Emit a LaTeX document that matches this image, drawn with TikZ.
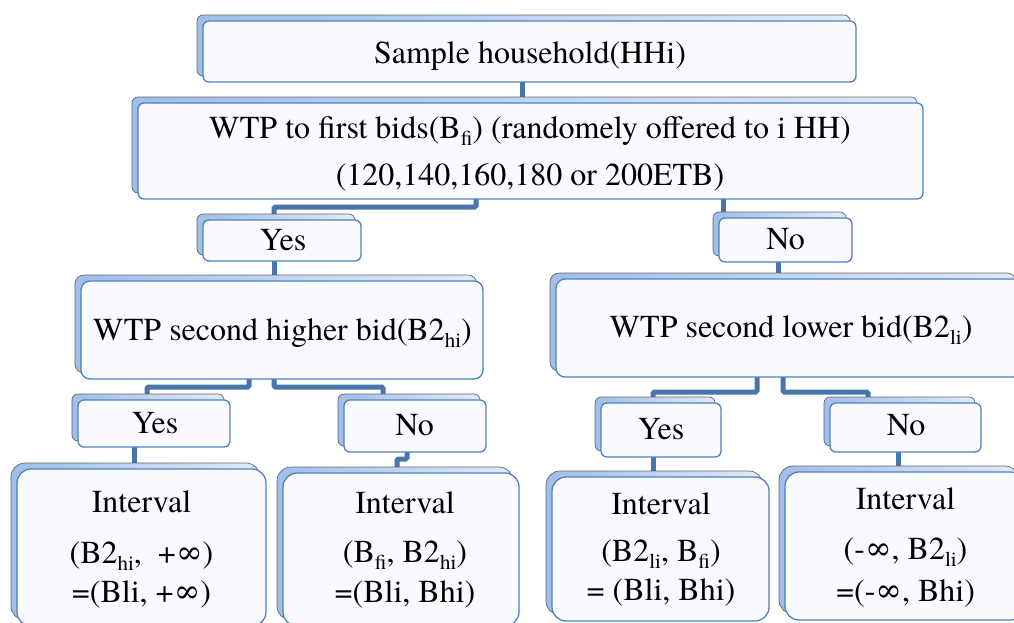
\documentclass[tikz,border=0pt]{standalone}
\usepackage{fontspec}
\newfontfamily\tnr{texgyretermes-regular.otf}
\usetikzlibrary{calc,shadows}
\pgfdeclarelayer{bg}
\pgfsetlayers{bg,main}
\newcommand\mysub[1]{\raisebox{-7pt}{\fontsize{21}{21}\selectfont #1}}
\definecolor{boxline}{RGB}{79,129,189}
\definecolor{boxfill}{RGB}{248,250,254}
\definecolor{shleft}{RGB}{160,190,232}
\definecolor{shright}{RGB}{226,234,247}
\definecolor{shline}{RGB}{100,102,108}
\definecolor{connc}{RGB}{72,117,172}
\begin{document}
\begin{tikzpicture}[x=1pt,y=-1pt,
  box/.style={draw=boxline, fill=boxfill, line width=1.3pt, rounded corners=6pt,
    anchor=north west, inner sep=0pt, outer sep=0pt,
    copy shadow={shadow xshift=-6pt, shadow yshift=6pt, left color=shleft, right color=shright, draw=shline, line width=0.7pt}},
  bigbox/.style={box, rounded corners=14pt},
  txt/.style={anchor=base, inner sep=0pt, font=\tnr\fontsize{32}{38}\selectfont},
  conn/.style={draw=connc, line width=5pt, rounded corners=1.5pt}]
\useasboundingbox (0,0) rectangle (1014,622);
\clip (0,0) rectangle (1014,622);

% boxes
\node[box, minimum width=653pt, minimum height=61pt] (top) at (203,21) {};
\node[box, minimum width=785pt, minimum height=96pt] (sec) at (138,103) {};
\node[box, minimum width=158pt, minimum height=41pt] (yes1) at (203,220) {};
\node[box, minimum width=133pt, minimum height=44pt] (no1) at (719,218) {};
\node[box, rounded corners=9pt, minimum width=402pt, minimum height=98pt] (hi) at (81,281) {};
\node[box, rounded corners=9pt, minimum width=466pt, minimum height=98pt] (lo) at (556,279) {};
\node[box, minimum width=152pt, minimum height=47pt] (yes2) at (78,400) {};
\node[box, minimum width=142pt, minimum height=52pt] (no2) at (344,400) {};
\node[box, minimum width=120pt, minimum height=54pt] (yes3) at (601,403) {};
\node[box, minimum width=151pt, minimum height=49pt] (no3) at (830,403) {};
\node[bigbox, minimum width=249pt, minimum height=157pt] (int1) at (17,469) {};
\node[bigbox, minimum width=236pt, minimum height=153pt] (int2) at (283,473) {};
\node[bigbox, minimum width=217pt, minimum height=144pt] (int3) at (552,477) {};
\node[bigbox, minimum width=240pt, minimum height=148pt] (int4) at (785,472) {};

% attachment points
\coordinate (a1) at ($(top.south)+(-7.5,0)$);
\coordinate (a2) at ($(sec.south)+(-54.5,0)$);
\coordinate (a3) at ($(sec.south)+(192.5,0)$);
\coordinate (a4) at ($(yes1.south)+(-8,0)$);
\coordinate (a5) at ($(no1.south)+(-7.5,0)$);
\coordinate (a6) at ($(hi.south)+(-33,0)$);
\coordinate (a7) at ($(hi.south)+(-8,0)$);
\coordinate (a8) at ($(lo.south)+(-32,0)$);
\coordinate (a9) at ($(lo.south)+(-6,0)$);
\coordinate (a10) at ($(yes2.south)+(-20,0)$);
\coordinate (a11) at ($(no2.south)+(-8,0)$);
\coordinate (a12) at ($(yes3.south)+(-8,0)$);
\coordinate (a13) at ($(no3.south)+(-7.5,0)$);

\begin{pgfonlayer}{bg}
\draw[conn] (a1) -- (a1 |- sec.north);
\draw[conn] (a2) -- ++(0,8) -| ($(yes1.north)+(-8,0)$);
\draw[conn] (a3) -- (a3 |- no1.north);
\draw[conn] (a4) -- (a4 |- hi.north);
\draw[conn] (a5) -- (a5 |- lo.north);
\draw[conn] (a6) -- ++(0,8) -| ($(yes2.north)+(-7,0)$);
\draw[conn] (a7) -- ++(0,8) -| ($(no2.north)+(-32,0)$);
\draw[conn] (a8) -- ++(0,15) -| ($(yes3.north)+(-8,0)$);
\draw[conn] (a9) -- ++(0,15) -| ($(no3.north)+(-37.5,0)$);
\draw[conn] (a10) -- (a10 |- int1.north);
\draw[conn] (a11) -- ++(0,7) -| ($(int2.north)+(-4,0)$);
\draw[conn] (a12) -- (a12 |- int3.north);
\draw[conn] (a13) -- (a13 |- int4.north);
\end{pgfonlayer}

% texts
\node[txt] (ttop) at (530,63) {Sample household(HHi)};
\node[txt] (tsec1) at (530,138) {WTP to first bids(B\mysub{fi}) (randomely offered to i HH)};
\node[txt] (tsec2) at (530,185) {(120,140,160,180 or 200ETB)};
\node[txt] (tyes1) at (283,250) {Yes};
\node[txt] (tno1) at (785.5,249) {No};
\node[txt] (thi) at (282.5,340) {WTP second higher bid(B2\mysub{hi})};
\node[txt] (tlo) at (791,337) {WTP second lower bid(B2\mysub{li})};
\node[txt] (tyes2) at (155,433) {Yes};
\node[txt] (tno2) at (414.5,435) {No};
\node[txt] (tyes3) at (661,439) {Yes};
\node[txt] (tno3) at (906,435) {No};
\node[txt] (ti1a) at (141.5,512) {Interval};
\node[txt] (ti1b) at (141.5,563) {(B2\mysub{hi},\ \ +∞)};
\node[txt] (ti1c) at (141.5,602) {=(Bli, +∞)};
\node[txt] (ti2a) at (405,513) {Interval};
\node[txt] (ti2b) at (405,562) {(B\mysub{fi}, B2\mysub{hi})};
\node[txt] (ti2c) at (405,602) {=(Bli, Bhi)};
\node[txt] (ti3a) at (661,514) {Interval};
\node[txt] (ti3b) at (661,561) {(B2\mysub{li}, B\mysub{fi})};
\node[txt] (ti3c) at (661,600) {= (Bli, Bhi)};
\node[txt] (ti4a) at (905.5,509) {Interval};
\node[txt] (ti4b) at (905.5,559) {(-∞, B2\mysub{li})};
\node[txt] (ti4c) at (905.5,601) {=(-∞, Bhi)};
\end{tikzpicture}
\end{document}
